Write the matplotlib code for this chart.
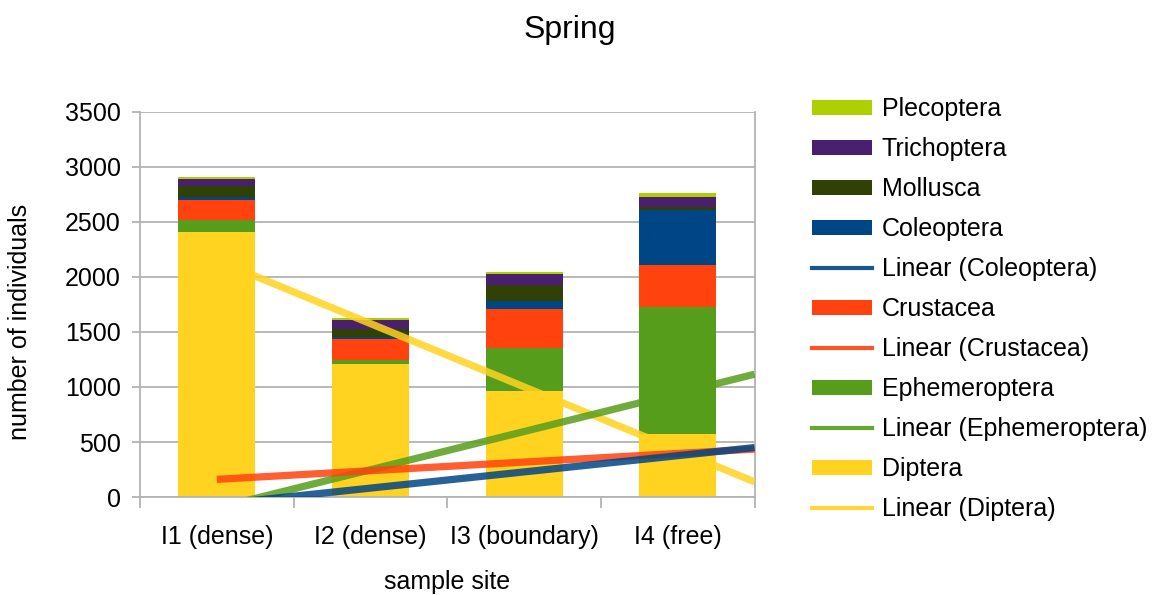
import numpy as np
import matplotlib
matplotlib.use("Agg")
import matplotlib.pyplot as plt
from matplotlib.patches import Patch
from matplotlib.lines import Line2D

plt.rcParams['font.family'] = ['Liberation Sans', 'DejaVu Sans']

sites = ["I1 (dense)", "I2 (dense)", "I3 (boundary)", "I4 (free)"]

# individuals per taxon and sample site (stacked from the bottom up)
diptera = [2410, 1210, 960, 575]
ephemeroptera = [110, 36, 390, 1150]
crustacea = [182, 188, 355, 388]
coleoptera = [27, 18, 73, 500]
mollusca = [100, 73, 145, 24]
trichoptera = [61, 85, 100, 87]
plecoptera = [15, 18, 18, 43]

taxa = [
    ("Diptera", diptera, "#ffd320"),
    ("Ephemeroptera", ephemeroptera, "#579d1c"),
    ("Crustacea", crustacea, "#ff420e"),
    ("Coleoptera", coleoptera, "#004586"),
    ("Mollusca", mollusca, "#314004"),
    ("Trichoptera", trichoptera, "#4b1f6f"),
    ("Plecoptera", plecoptera, "#aecf00"),
]
trend_taxa = ["Diptera", "Ephemeroptera", "Crustacea", "Coleoptera"]

fig = plt.figure(figsize=(11.63, 5.95), dpi=100)
ax = fig.add_axes([0.1204, 0.1647, 0.5284, 0.6471])

x = np.arange(len(sites))
bottom = np.zeros(len(sites))
for name, vals, col in taxa:
    ax.bar(x, vals, 0.5, bottom=bottom, color=col, zorder=2)
    bottom += np.array(vals)

# linear trend lines, from the first site out to the right edge
xt = np.array([0.0, 3.5])
for name, vals, col in taxa:
    if name in trend_taxa:
        k, b = np.polyfit(x, vals, 1)
        ax.plot(xt, k * xt + b, color=col, lw=5.2, alpha=0.85,
                solid_capstyle='butt', zorder=3)

ax.set_xlim(-0.5, 3.5)
ax.set_ylim(0, 3500)
ax.set_yticks(range(0, 3501, 500))
ax.yaxis.grid(True, color='#b3b3b3', lw=1.3, zorder=0)
ax.set_axisbelow(True)

ax.set_xticks(np.arange(-0.5, 3.6, 1))
ax.set_xticklabels([])
ax.set_xticks(x, minor=True)
ax.set_xticklabels(sites, minor=True)
ax.tick_params(axis='x', which='major', length=8, width=1.3, color='#b3b3b3')
ax.tick_params(axis='x', which='minor', length=0, pad=20, labelsize=18)
ax.tick_params(axis='y', length=6, width=1.3, color='#b3b3b3', labelsize=18, pad=8)

for s in ['left', 'bottom', 'right']:
    ax.spines[s].set_color('#b3b3b3')
    ax.spines[s].set_linewidth(1.3)
ax.spines['top'].set_visible(False)

ax.set_ylabel("number of individuals", fontsize=18)
ax.yaxis.set_label_coords(-0.176, 0.455)
ax.set_xlabel("sample site", fontsize=18)
ax.xaxis.set_label_coords(0.5, -0.19)
ax.xaxis.label.set_va('top')
fig.suptitle("Spring", fontsize=23, x=0.49, y=0.975)

colors = {name: col for name, vals, col in taxa}
handles = []
labels = []
for name in ["Plecoptera", "Trichoptera", "Mollusca", "Coleoptera", "Crustacea",
             "Ephemeroptera", "Diptera"]:
    handles.append(Patch(facecolor=colors[name]))
    labels.append(name)
    if name in trend_taxa:
        handles.append(Line2D([], [], color=colors[name], lw=3, alpha=0.9))
        labels.append("Linear (" + name + ")")

ax.legend(handles, labels, loc='upper left', bbox_to_anchor=(0.698, 0.8365),
          bbox_transform=fig.transFigure, frameon=False, fontsize=18,
          handlelength=2.4, handleheight=0.6, handletextpad=0.4,
          labelspacing=0.64, borderpad=0, borderaxespad=0)

plt.savefig("out.png", dpi=100)
